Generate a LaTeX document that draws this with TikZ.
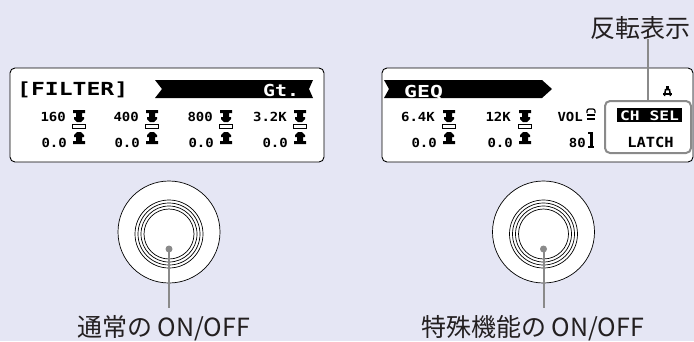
\documentclass[tikz,border=0pt]{standalone}
\usepackage{fontspec}
\usepackage{graphicx}
\newfontfamily\lcdfam{DejaVu Sans Mono}
\newfontfamily\jpfam{Noto Sans CJK JP}
\definecolor{bgc}{RGB}{229,230,244}
\definecolor{leadc}{RGB}{138,138,138}
\definecolor{txtc}{RGB}{35,31,32}
\newcommand\lcdf[1]{\lcdfam\bfseries\fontsize{#1}{#1}\selectfont}
\newcommand\wx[2]{\scalebox{#1}[1]{#2}}
\tikzset{
  lcdbox/.style={draw=black, line width=0.9pt, fill=white, rounded corners=5pt},
  lcdsm/.style={inner sep=0pt, font=\lcdf{12.5}, anchor=base east},
  lcdhd/.style={inner sep=0pt, font=\lcdf{18}, anchor=base west},
  leader/.style={draw=leadc, line width=2pt},
  ring/.style={draw=black, line width=0.7pt},
  knob/.style={circle, draw=black, line width=0.7pt, fill=white, minimum size=102pt, inner sep=0pt},
  knobdot/.style={circle, fill=leadc, minimum size=7pt, inner sep=0pt},
  lbl/.style={inner sep=0pt, font=\jpfam\fontsize{25}{25}\selectfont, text=txtc, anchor=base west},
  hlbox/.style={draw=leadc, line width=2pt, rounded corners=5pt, minimum width=86pt, minimum height=52pt, inner sep=0pt},
  fader/.pic={
    \fill (-6,0) -- (6,0) -- (6,3) -- (3,3) -- (3,7) -- (5,7) -- (5,9) -- (2,12) -- (-2,12) -- (-5,9) -- (-5,7) -- (-3,7) -- (-3,3) -- (-6,3) -- cycle;
    \draw[line width=1pt, fill=white] (-6.5,14.5) rectangle (6.5,18.5);
    \fill (-2,22) -- (2,22) -- (5,25) -- (5,27) -- (3,27) -- (3,31) -- (6,31) -- (6,34) -- (-6,34) -- (-6,31) -- (-3,31) -- (-3,27) -- (-5,27) -- (-5,25) -- cycle;
  },
  volfader/.pic={
    \draw[line width=1.2pt, rounded corners=2pt] (-4,5) -- (-4,1) -- (4,1) -- (4,5);
    \fill (-4,6) rectangle (4,8);
    \fill (-4,10) rectangle (4,12);
    \fill (-3,24) rectangle (2,26);
    \fill (-1,24) rectangle (2,40);
    \fill (-3,38) rectangle (3,40);
  }
}
\begin{document}
\begin{tikzpicture}[x=1pt,y=-1pt]
\useasboundingbox (0,0) rectangle (694,341);
\fill[bgc] (0,0) rectangle (694,341);

% ---------- left LCD ----------
\draw[lcdbox] (10,68) rectangle (324,162);
\node[lcdhd] (hdL) at (17,95) {\wx{1.28}{[FILTER]}};
\fill (155,80) -- (313,80) -- (309,89) -- (313,98) -- (155,98) -- (162,89) -- cycle;
\node[lcdhd, font=\lcdf{16.5}, text=white] (gt) at (263,96) {\wx{1.2}{Gt.}};
\foreach \cx/\la [count=\i] in {79/160, 152/400, 226/800, 300/3.2K}{
  \pic at (\cx,110) {fader};
  \node[lcdsm] (la\i) at (\cx-13,121) {\wx{1.12}{\la}};
  \node[lcdsm] (lb\i) at (\cx-12,147) {\wx{1.12}{0.0}};
}

% ---------- right LCD ----------
\draw[lcdbox] (382,68) rectangle (693,162);
\fill (384,80) -- (542,80) -- (552,89) -- (542,98) -- (384,98) -- (389,89) -- cycle;
\node[lcdhd, font=\lcdf{16.5}, text=white] (geq) at (404,97) {\wx{1.3}{GEQ}};
\foreach \cx/\la [count=\i] in {449/6.4K, 525/12K}{
  \pic at (\cx,110) {fader};
  \node[lcdsm] (ra\i) at (\cx-14,121) {\wx{1.12}{\la}};
  \node[lcdsm] (rb\i) at (\cx-12,147) {\wx{1.12}{0.0}};
}
\node[lcdsm] (vol) at (583,121) {\wx{1.12}{VOL}};
\node[lcdsm] (v80) at (586,147) {\wx{1.12}{80}};
\pic at (591,108) {volfader};
% small A icon
\fill (666,86) rectangle (669,88.5);
\draw[line width=1.5pt] (664.5,96) -- (665.5,89.5) -- (669.5,89.5) -- (670.5,96);
\fill (663,92.5) rectangle (672,94.5);
% highlight
\node[hlbox] (hl) at (648,127) {};
\fill (617,108) rectangle (682,122);
\node[inner sep=0pt, font=\lcdf{13}, text=white, anchor=base] (chsel) at (649.5,120.5) {\wx{1.25}{CH SEL}};
\node[inner sep=0pt, font=\lcdf{14}, anchor=base] (latch) at (650.5,147) {\wx{1.1}{LATCH}};
\node[lbl] (lblT) at (590,37) {反転表示};
\draw[leader] (hl.north |- lblT.south) -- (hl.north);

% ---------- knobs ----------
\node[knob] (knobL) at (169,232) {};
\foreach \r in {34,31,28,25}{ \draw[ring] (169,234) circle[radius=\r]; }
\node[knobdot] (dotL) at (169,249) {};
\node[lbl] (lblL) at (77,336) {通常の ON/OFF};
\draw[leader, shorten >=7pt] (dotL.center) -- (dotL.center |- lblL.north);

\node[knob] (knobR) at (543.5,232) {};
\foreach \r in {34,31,28,25}{ \draw[ring] (543.5,234) circle[radius=\r]; }
\node[knobdot] (dotR) at (543.5,249) {};
\node[lbl] (lblR) at (421,336) {特殊機能の ON/OFF};
\draw[leader, shorten >=7pt] (dotR.center) -- (dotR.center |- lblR.north);
\end{tikzpicture}
\end{document}
